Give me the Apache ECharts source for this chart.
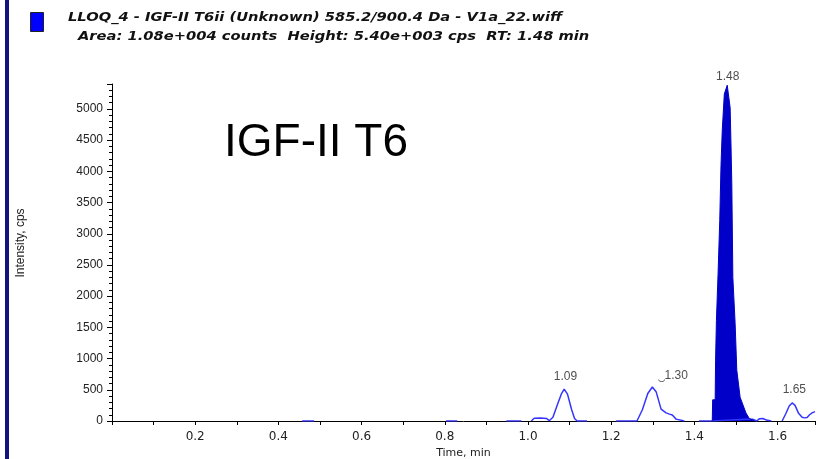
<!DOCTYPE html>
<html>
<head>
<meta charset="utf-8">
<script src="https://cdn.jsdelivr.net/npm/echarts@6/dist/echarts.min.js"></script>
<style>
  html, body { margin: 0; padding: 0; background: #fff; }
  #chart { width: 819px; height: 459px; }
</style>
</head>
<body>
<div id="chart"></div>
<script>
// trace (min / cps), null = no signal drawn
const traceTime = [
  0.457, 0.486, 0.487,
  0.803, 0.830, 0.831,
  0.948, 0.984, 0.985,
  1.008, 1.015, 1.030, 1.045, 1.051, 1.060, 1.070, 1.080, 1.087, 1.095, 1.105, 1.112, 1.118, 1.142, 1.143,
  1.212, 1.243, 1.262, 1.275, 1.288, 1.299, 1.308, 1.320, 1.332, 1.340, 1.347, 1.356, 1.376, 1.377,
  1.411, 1.443, 1.524, 1.540, 1.550, 1.556, 1.565, 1.573, 1.585, 1.586,
  1.611, 1.620, 1.628, 1.635, 1.642, 1.650, 1.659, 1.665, 1.671, 1.677, 1.683, 1.690
];
const traceValue = [
  0, 0, null,
  0, 0, null,
  0, 0, null,
  0, 45, 50, 40, 5, 60, 250, 430, 510, 430, 180, 40, 0, 0, null,
  0, 0, 0, 180, 440, 545, 470, 190, 130, 110, 95, 30, 0, null,
  0, 0, 30, 30, 0, 35, 40, 15, 0, null,
  0, 120, 240, 290, 250, 130, 60, 50, 55, 100, 130, 150
];
// main peak at 1.48 (filled)
const peakTime = [1.443, 1.444, 1.450, 1.451, 1.453, 1.457, 1.461, 1.464, 1.467, 1.472, 1.479,
  1.486, 1.488, 1.490, 1.4925, 1.498, 1.502, 1.510, 1.515, 1.524, 1.532, 1.545];
const peakValue = [0, 340, 340, 975, 1610, 2360, 3210, 4090, 4650, 5240, 5380,
  5020, 4440, 3800, 2300, 1560, 815, 380, 290, 130, 40, 0];
// apex labels
const apexTime = [1.09, 1.30, 1.48, 1.65];
const apexValue = [510, 545, 5380, 290];
const apexText = ['1.09', '\u203f1.30', '1.48', '1.65'];
const apexOffset = [[0, -2], [20, -1], [0, 1], [-4, -3]];

const titleLine1 = 'LLOQ_4 - IGF-II T6ii (Unknown) 585.2/900.4 Da - V1a_22.wiff';
const titleLine2 = 'Area: 1.08e+004 counts  Height: 5.40e+003 cps  RT: 1.48 min';

const zip = (a, b) => a.map((t, i) => [t, b[i]]);

const chart = echarts.init(document.getElementById('chart'));
chart.setOption({
  animation: false,
  grid: { left: 112, right: 4, top: 84, bottom: 38, containLabel: false, outerBoundsMode: 'none' },
  graphic: [
    { type: 'rect', left: 5, top: 0, shape: { width: 4, height: 459 }, style: { fill: '#13137f' } },
    { type: 'rect', left: 30, top: 12, shape: { width: 13, height: 19 },
      style: { fill: '#0000ff', stroke: '#222', lineWidth: 1 } },
    { type: 'text', x: 68, y: 11, scaleX: 1.13, style: { text: titleLine1, fill: '#111',
      font: 'italic bold 13px "DejaVu Sans"' } },
    { type: 'text', x: 78, y: 30, scaleX: 1.13, style: { text: titleLine2, fill: '#111',
      font: 'italic bold 13px "DejaVu Sans"' } },
    { type: 'text', left: 224, top: 120, style: { text: 'IGF-II T6', fill: '#000',
      font: '46px "Liberation Sans"' } },
    { type: 'text', x: 21, y: 243, rotation: Math.PI / 2, style: { text: 'Intensity, cps', fill: '#222',
      font: '12px "Liberation Sans"', align: 'center', verticalAlign: 'middle' } }
  ],
  xAxis: {
    type: 'value', min: 0, max: 1.69, interval: 0.1,
    name: 'Time, min', nameLocation: 'middle', nameGap: 27,
    nameTextStyle: { color: '#222', fontFamily: 'DejaVu Sans', fontSize: 11 },
    axisLine: { lineStyle: { color: '#000', width: 1 } },
    axisTick: { inside: false, length: 4, lineStyle: { color: '#000' } },
    splitLine: { show: false },
    axisLabel: {
      color: '#222', fontFamily: 'DejaVu Sans', fontSize: 12, margin: 10,
      formatter: v => { const k = Math.round(v * 10); return k > 0 && k % 2 === 0 ? (k / 10).toFixed(1) : ''; }
    }
  },
  yAxis: {
    type: 'value', min: 0, max: 5400, interval: 500,
    axisLine: { show: true, lineStyle: { color: '#000', width: 1 } },
    axisTick: { show: true, length: 5, lineStyle: { color: '#000' } },
    minorTick: { show: true, splitNumber: 5, length: 3, lineStyle: { color: '#000' } },
    splitLine: { show: false },
    axisLabel: {
      color: '#222', fontFamily: 'Liberation Sans', fontSize: 12, margin: 9,
      formatter: v => (v % 500 === 0 ? String(v) : '')
    }
  },
  series: [
    {
      type: 'line', data: zip(traceTime, traceValue), showSymbol: false, connectNulls: false,
      lineStyle: { color: '#3535ff', width: 1.5 }, z: 3
    },
    {
      type: 'line', data: zip(peakTime, peakValue), showSymbol: false,
      lineStyle: { color: '#0000c8', width: 1 }, areaStyle: { color: '#0000c8', opacity: 1 }, z: 3
    },
    {
      type: 'scatter', symbolSize: 0, z: 4,
      data: apexTime.map((t, i) => ({
        value: [t, apexValue[i]],
        label: { show: true, position: 'top', distance: 4, offset: apexOffset[i],
          formatter: apexText[i], color: '#222', fontFamily: 'Liberation Sans', fontSize: 12 }
      }))
    }
  ]
});
</script>
</body>
</html>
